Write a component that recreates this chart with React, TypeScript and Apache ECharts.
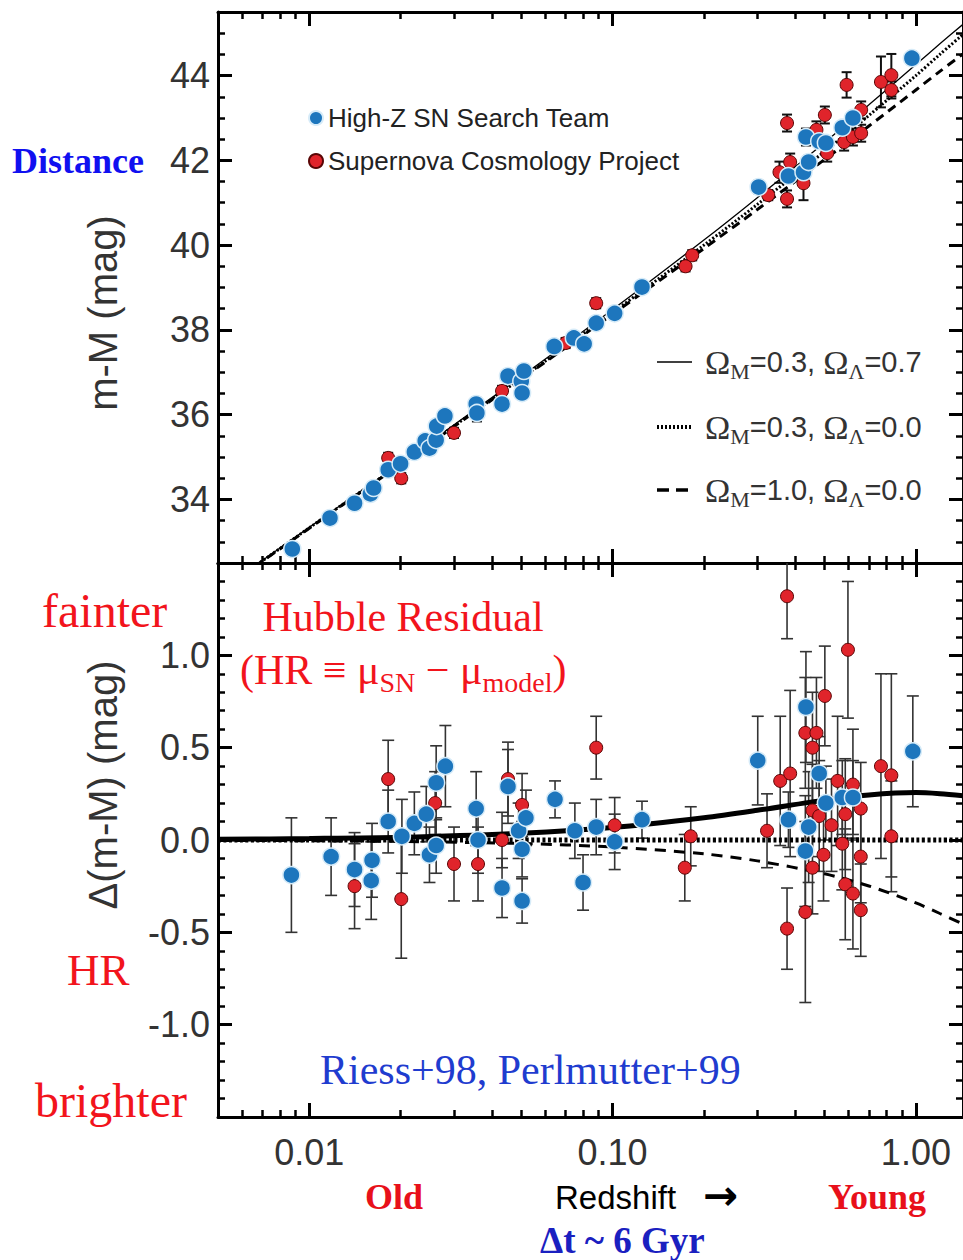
import React, { useEffect, useRef } from "react";
import * as echarts from "echarts";

// ---------- axes ----------
const X_MIN = 0.005;
const X_MAX = 1.43;
const X_MAJOR = [0.01, 0.1, 1];
const X_MINOR = [0.006, 0.007, 0.008, 0.009, 0.02, 0.03, 0.04, 0.05, 0.06, 0.07, 0.08, 0.09, 0.2, 0.3, 0.4, 0.5, 0.6, 0.7, 0.8, 0.9];

const TOP_MIN = 32.5;
const TOP_MAX = 45.5;
const TOP_MAJOR = [34, 36, 38, 40, 42, 44];
const TOP_MINOR = [33, 33.5, 34.5, 35, 35.5, 36.5, 37, 37.5, 38.5, 39, 39.5, 40.5, 41, 41.5, 42.5, 43, 43.5, 44.5, 45];

const BOT_MIN = -1.5;
const BOT_MAX = 1.5;
const BOT_MAJOR = [-1, -0.5, 0, 0.5, 1];
const BOT_MINOR = [-1.4, -1.3, -1.2, -1.1, -0.9, -0.8, -0.7, -0.6, -0.4, -0.3, -0.2, -0.1, 0.1, 0.2, 0.3, 0.4, 0.6, 0.7, 0.8, 0.9, 1.1, 1.2, 1.3, 1.4];

// ---------- model curves ----------
const modelZ = [0.005, 0.01, 0.02, 0.05, 0.1, 0.2, 0.3, 0.5, 0.7, 1.0, 1.2, 1.43];
const muL = [31.82, 33.34, 34.86, 36.9, 38.48, 40.12, 41.12, 42.42, 43.31, 44.26, 44.75, 45.21]; // Om=0.3, OL=0.7
const muO = [31.81, 33.33, 34.84, 36.86, 38.41, 40.0, 40.96, 42.21, 43.06, 44.0, 44.5, 44.97]; // Om=0.3, OL=0.0
const muE = [31.81, 33.32, 34.83, 36.84, 38.37, 39.92, 40.84, 42.02, 42.81, 43.66, 44.1, 44.51]; // Om=1.0, OL=0.0
const resL = [0.004, 0.008, 0.015, 0.037, 0.068, 0.121, 0.161, 0.216, 0.244, 0.257, 0.251, 0.24];
const resO = [0, 0, 0, 0, 0, 0, 0, 0, 0, 0, 0, 0];
const resE = [-0.002, -0.004, -0.008, -0.019, -0.038, -0.075, -0.113, -0.183, -0.249, -0.341, -0.398, -0.455];

// ---------- supernovae: [z, value, error] ----------
const hizTop = [
  [0.00879, 32.83, 0.15], [0.0117, 33.56, 0.12], [0.0141, 33.91, 0.15], [0.0159, 34.13, 0.12],
  [0.0163, 34.27, 0.12], [0.0182, 34.7, 0.12], [0.02, 34.84, 0.12], [0.0222, 35.12, 0.12],
  [0.0241, 35.38, 0.12], [0.0249, 35.21, 0.15], [0.0262, 35.4, 0.12], [0.0263, 35.73, 0.12],
  [0.028, 35.97, 0.12], [0.0355, 36.25, 0.15], [0.0357, 36.04, 0.2], [0.0432, 36.25, 0.12],
  [0.0452, 36.91, 0.15], [0.05, 36.79, 0.15], [0.0503, 36.51, 0.12], [0.051, 37.03, 0.15],
  [0.0642, 37.61, 0.12], [0.0745, 37.81, 0.12], [0.0806, 37.67, 0.12], [0.0883, 38.16, 0.12],
  [0.1016, 38.39, 0.15], [0.125, 39.01, 0.12], [0.303, 41.37, 0.15], [0.38, 41.63, 0.15],
  [0.426, 41.72, 0.15], [0.434, 42.55, 0.2], [0.443, 41.96, 0.15], [0.48, 42.45, 0.15],
  [0.505, 42.41, 0.15], [0.572, 42.77, 0.15], [0.62, 43.0, 0.15], [0.97, 44.41, 0.15],
];
const scpTop = [
  [0.0182, 34.98, 0.12], [0.0201, 34.5, 0.12], [0.03, 35.57, 0.12], [0.0432, 36.56, 0.12],
  [0.07, 37.69, 0.12], [0.0883, 38.63, 0.12], [0.174, 39.5, 0.12], [0.183, 39.76, 0.12],
  [0.326, 41.18, 0.12], [0.355, 41.72, 0.25], [0.376, 41.09, 0.2], [0.376, 42.88, 0.2],
  [0.385, 41.96, 0.2], [0.426, 41.46, 0.4], [0.47, 42.72, 0.2], [0.501, 43.07, 0.2],
  [0.51, 42.17, 0.2], [0.58, 42.43, 0.2], [0.591, 43.78, 0.3], [0.62, 42.55, 0.2],
  [0.66, 42.64, 0.2], [0.66, 43.19, 0.2], [0.767, 43.85, 0.6], [0.83, 44.01, 0.5], [0.83, 43.66, 0.2],
];
const hizBot = [
  [0.00873, -0.19, 0.31], [0.0118, -0.09, 0.21], [0.0141, -0.16, 0.2], [0.0161, -0.11, 0.2],
  [0.016, -0.22, 0.21], [0.0182, 0.1, 0.17], [0.0202, 0.02, 0.2], [0.0222, 0.09, 0.17],
  [0.0243, 0.14, 0.15], [0.0249, -0.08, 0.15], [0.0262, -0.03, 0.15], [0.0262, 0.31, 0.2],
  [0.0281, 0.4, 0.22], [0.0355, 0.17, 0.2], [0.036, 0.0, 0.18], [0.0432, -0.26, 0.16],
  [0.0452, 0.29, 0.2], [0.049, 0.05, 0.15], [0.0503, -0.05, 0.15], [0.0518, 0.12, 0.15],
  [0.0503, -0.33, 0.12], [0.0646, 0.22, 0.1], [0.0751, 0.05, 0.15], [0.0799, -0.23, 0.15],
  [0.0883, 0.07, 0.15], [0.1016, -0.01, 0.15], [0.125, 0.11, 0.1], [0.301, 0.43, 0.24],
  [0.38, 0.11, 0.15], [0.434, 0.72, 0.3], [0.443, 0.07, 0.3], [0.432, -0.06, 0.3],
  [0.48, 0.36, 0.2], [0.505, 0.2, 0.2], [0.572, 0.23, 0.2], [0.62, 0.23, 0.2], [0.977, 0.48, 0.3],
];
const scpBot = [
  [0.0141, -0.25, 0.23], [0.0182, 0.33, 0.21], [0.0201, -0.32, 0.32], [0.026, 0.2, 0.17],
  [0.03, -0.13, 0.2], [0.036, -0.13, 0.2], [0.0432, 0.0, 0.15], [0.0452, 0.33, 0.2],
  [0.0503, 0.19, 0.17], [0.0883, 0.5, 0.17], [0.1016, 0.08, 0.15], [0.173, -0.15, 0.18],
  [0.181, 0.02, 0.16], [0.323, 0.05, 0.2], [0.357, 0.32, 0.35], [0.376, 1.32, 0.23],
  [0.376, -0.48, 0.22], [0.385, 0.36, 0.45], [0.432, 0.58, 0.3], [0.432, -0.39, 0.49],
  [0.456, 0.5, 0.3], [0.456, 0.16, 0.25], [0.456, -0.15, 0.25], [0.47, 0.58, 0.3],
  [0.48, 0.13, 0.3], [0.496, -0.08, 0.25], [0.501, 0.78, 0.27], [0.527, 0.08, 0.25],
  [0.552, 0.32, 0.35], [0.572, -0.02, 0.25], [0.585, 0.14, 0.3], [0.585, -0.24, 0.3],
  [0.597, 1.03, 0.37], [0.62, 0.3, 0.3], [0.62, -0.29, 0.3], [0.658, 0.17, 0.25],
  [0.658, -0.09, 0.25], [0.658, -0.38, 0.25], [0.767, 0.4, 0.5], [0.83, 0.35, 0.55], [0.83, 0.02, 0.3],
];

const HIZ = "High-Z SN Search Team";
const SCP = "Supernova Cosmology Project";
const BLUE = "#1d76bd";
const RED = "#e0242b";
const TEXT_RED = "#f2141c";
const SANS = "Liberation Sans";
const SERIF = "Liberation Serif";

const pair = (xs: number[], ys: number[]) => xs.map((x, i) => [x, ys[i]]);

function xAxes(gridIndex: number, withLabels: boolean) {
  const base = {
    gridIndex,
    type: "log",
    logBase: 10,
    min: X_MIN,
    max: X_MAX,
    splitLine: { show: false },
  };
  const major = (position: string, labels: boolean) => ({
    ...base,
    position,
    axisLine: { show: true, onZero: false, lineStyle: { color: "#000", width: 3 } },
    axisTick: { show: true, inside: true, length: 14, customValues: X_MAJOR, lineStyle: { color: "#000", width: 3 } },
    axisLabel: labels
      ? {
          show: true,
          customValues: X_MAJOR,
          margin: 17,
          fontSize: 36,
          fontFamily: SANS,
          color: "#333",
          formatter: (v: number) => Number(v).toFixed(2),
        }
      : { show: false },
  });
  const minor = (position: string) => ({
    ...base,
    position,
    axisLine: { show: false, onZero: false },
    axisTick: { show: true, inside: true, length: 7, customValues: X_MINOR, lineStyle: { color: "#000", width: 2.5 } },
    axisLabel: { show: false },
  });
  return [major("bottom", withLabels), major("top", false), minor("bottom"), minor("top")];
}

function yAxes(gridIndex: number, min: number, max: number, majors: number[], minors: number[], digits: number) {
  const base = { gridIndex, type: "value", min, max, splitLine: { show: false } };
  const major = (position: string, labels: boolean) => ({
    ...base,
    position,
    axisLine: { show: true, onZero: false, lineStyle: { color: "#000", width: 3 } },
    axisTick: { show: true, inside: true, length: 14, customValues: majors, lineStyle: { color: "#000", width: 3 } },
    axisLabel: labels
      ? {
          show: true,
          customValues: majors,
          margin: 8,
          fontSize: 36,
          fontFamily: SANS,
          color: "#333",
          formatter: (v: number) => Number(v).toFixed(digits),
        }
      : { show: false },
  });
  const minor = (position: string) => ({
    ...base,
    position,
    axisLine: { show: false, onZero: false },
    axisTick: { show: true, inside: true, length: 7, customValues: minors, lineStyle: { color: "#000", width: 2.5 } },
    axisLabel: { show: false },
  });
  return [major("left", true), major("right", false), minor("left"), minor("right")];
}

function errorBars(data: number[][], xi: number, yi: number, color: string, lw: number, cap: number) {
  return {
    type: "custom",
    xAxisIndex: xi,
    yAxisIndex: yi,
    clip: true,
    z: 2,
    silent: true,
    data,
    encode: { x: 0, y: 1 },
    renderItem: (params: any, api: any) => {
      const z = api.value(0);
      const v = api.value(1);
      const e = api.value(2);
      const p1 = api.coord([z, v + e]);
      const p2 = api.coord([z, v - e]);
      const style = { stroke: color, lineWidth: lw };
      return {
        type: "group",
        children: [
          { type: "line", shape: { x1: p1[0], y1: p1[1], x2: p2[0], y2: p2[1] }, style },
          { type: "line", shape: { x1: p1[0] - cap, y1: p1[1], x2: p1[0] + cap, y2: p1[1] }, style },
          { type: "line", shape: { x1: p2[0] - cap, y1: p2[1], x2: p2[0] + cap, y2: p2[1] }, style },
        ],
      };
    },
  };
}

function scatter(name: string, data: number[][], xi: number, yi: number, blue: boolean) {
  return {
    type: "scatter",
    name,
    xAxisIndex: xi,
    yAxisIndex: yi,
    data,
    encode: { x: 0, y: 1 },
    symbol: "circle",
    symbolSize: blue ? 17 : 13,
    z: blue ? 5 : 4,
    itemStyle: blue
      ? { color: BLUE, borderColor: "#d6ebf8", borderWidth: 1.5, opacity: 1 }
      : { color: RED, borderColor: "#5a0606", borderWidth: 1, opacity: 1 },
  };
}

function line(data: number[][], xi: number, yi: number, width: number, type: any) {
  return {
    type: "line",
    xAxisIndex: xi,
    yAxisIndex: yi,
    data,
    showSymbol: false,
    symbol: "none",
    smooth: 0.3,
    clip: true,
    z: 3,
    silent: true,
    lineStyle: { color: "#000", width, type },
  };
}

const txt = (x: number, y: number, text: string, size: number, family: string, color: string, bold = false, extra: any = {}) => ({
  type: "text",
  x,
  y,
  ...extra,
  style: {
    text,
    fontSize: size,
    fontFamily: family,
    fontWeight: bold ? "bold" : "normal",
    fill: color,
    align: extra.align || "left",
    textAlign: extra.align || "left",
    verticalAlign: "middle",
    textVerticalAlign: "middle",
  },
});

const modelLabel = (y: number, om: string, ol: string) => ({
  type: "text",
  x: 705,
  y,
  style: {
    text: `{o|Ω}{s|M}{n|=${om}, }{o|Ω}{s|Λ}{n|=${ol}}`,
    verticalAlign: "middle",
    textVerticalAlign: "middle",
    rich: {
      o: { fontFamily: SERIF, fontSize: 34, fill: "#333" },
      s: { fontFamily: SERIF, fontSize: 22, fill: "#333", padding: [18, 0, 0, 0] },
      n: { fontFamily: SANS, fontSize: 29, fill: "#333" },
    },
  },
});

export default function App() {
  const ref = useRef<HTMLDivElement>(null);
  useEffect(() => {
    if (!ref.current) return;
    const chart = echarts.init(ref.current, undefined, { renderer: "svg" });
    const option: any = {
      animation: false,
      backgroundColor: "#fff",
      grid: [
        { left: 218, top: 12, width: 746, height: 551 },
        { left: 218, top: 563, width: 746, height: 554 },
      ],
      xAxis: [...xAxes(0, false), ...xAxes(1, true)],
      yAxis: [
        ...yAxes(0, TOP_MIN, TOP_MAX, TOP_MAJOR, TOP_MINOR, 0),
        ...yAxes(1, BOT_MIN, BOT_MAX, BOT_MAJOR, BOT_MINOR, 1),
      ],
      legend: {
        data: [HIZ, SCP],
        orient: "vertical",
        left: 303,
        top: 100,
        itemWidth: 14,
        itemHeight: 14,
        itemGap: 17,
        icon: "circle",
        selectedMode: false,
        textStyle: { fontSize: 26, fontFamily: SANS, color: "#222" },
      },
      series: [
        // top panel (xAxis 0, yAxis 0)
        errorBars(scpTop, 0, 0, "#111", 2, 5),
        errorBars(hizTop, 0, 0, "#111", 2, 5),
        line(pair(modelZ, muL), 0, 0, 1.3, "solid"),
        line(pair(modelZ, muO), 0, 0, 3, [2, 2]),
        line(pair(modelZ, muE), 0, 0, 3, [9, 6]),
        scatter(SCP, scpTop, 0, 0, false),
        scatter(HIZ, hizTop, 0, 0, true),
        // bottom panel (xAxis 4, yAxis 4)
        errorBars(scpBot, 4, 4, "#333", 1.6, 6),
        errorBars(hizBot, 4, 4, "#333", 1.6, 6),
        line(pair(modelZ, resL), 4, 4, 5, "solid"),
        line(pair(modelZ, resO), 4, 4, 5, [3, 2.5]),
        line(pair(modelZ, resE), 4, 4, 3, [11, 8]),
        scatter(SCP, scpBot, 4, 4, false),
        scatter(HIZ, hizBot, 4, 4, true),
      ],
      graphic: [
        txt(103, 313, "m-M (mag)", 40, SANS, "#333", false, { rotation: Math.PI / 2, align: "center" }),
        txt(103, 785, "Δ(m-M) (mag)", 40, SANS, "#333", false, { rotation: Math.PI / 2, align: "center" }),
        txt(12, 161, "Distance", 36, SERIF, "#1010f0", true),
        txt(42, 610, "fainter", 48, SERIF, TEXT_RED),
        txt(67, 970, "HR", 45, SERIF, TEXT_RED),
        txt(35, 1100, "brighter", 48, SERIF, TEXT_RED),
        txt(403, 617, "Hubble Residual", 42, SERIF, TEXT_RED, false, { align: "center" }),
        {
          type: "text",
          x: 240,
          y: 670,
          style: {
            text: "{a|(HR ≡ μ}{s|SN}{a| − μ}{s|model}{a|)}",
            verticalAlign: "middle",
            textVerticalAlign: "middle",
            rich: {
              a: { fontFamily: SERIF, fontSize: 42, fill: TEXT_RED },
              s: { fontFamily: SERIF, fontSize: 28, fill: TEXT_RED, padding: [24, 0, 0, 0] },
            },
          },
        },
        txt(320, 1070, "Riess+98, Perlmutter+99", 42, SERIF, "#1f3ccf"),
        txt(365, 1197, "Old", 36, SERIF, "#e8101a", true),
        txt(555, 1197, "Redshift", 33, SANS, "#000"),
        txt(703, 1195, "→", 42, "DejaVu Sans", "#000", true),
        txt(828, 1197, "Young", 36, SERIF, "#e8101a", true),
        txt(540, 1240, "Δt ~ 6 Gyr", 37, SERIF, "#1a20c0", true),
        { type: "line", shape: { x1: 657, y1: 362, x2: 692, y2: 362 }, style: { stroke: "#000", lineWidth: 1.5 } },
        { type: "line", shape: { x1: 657, y1: 427, x2: 692, y2: 427 }, style: { stroke: "#000", lineWidth: 4, lineDash: [2, 2] } },
        { type: "line", shape: { x1: 657, y1: 490, x2: 692, y2: 490 }, style: { stroke: "#000", lineWidth: 3.5, lineDash: [12, 7] } },
        modelLabel(362, "0.3", "0.7"),
        modelLabel(427, "0.3", "0.0"),
        modelLabel(490, "1.0", "0.0"),
      ],
    };
    chart.setOption(option);
    return () => chart.dispose();
  }, []);
  return <div ref={ref} style={{ position: "absolute", left: 0, top: 0, width: 963, height: 1260, background: "#fff" }} />;
}
